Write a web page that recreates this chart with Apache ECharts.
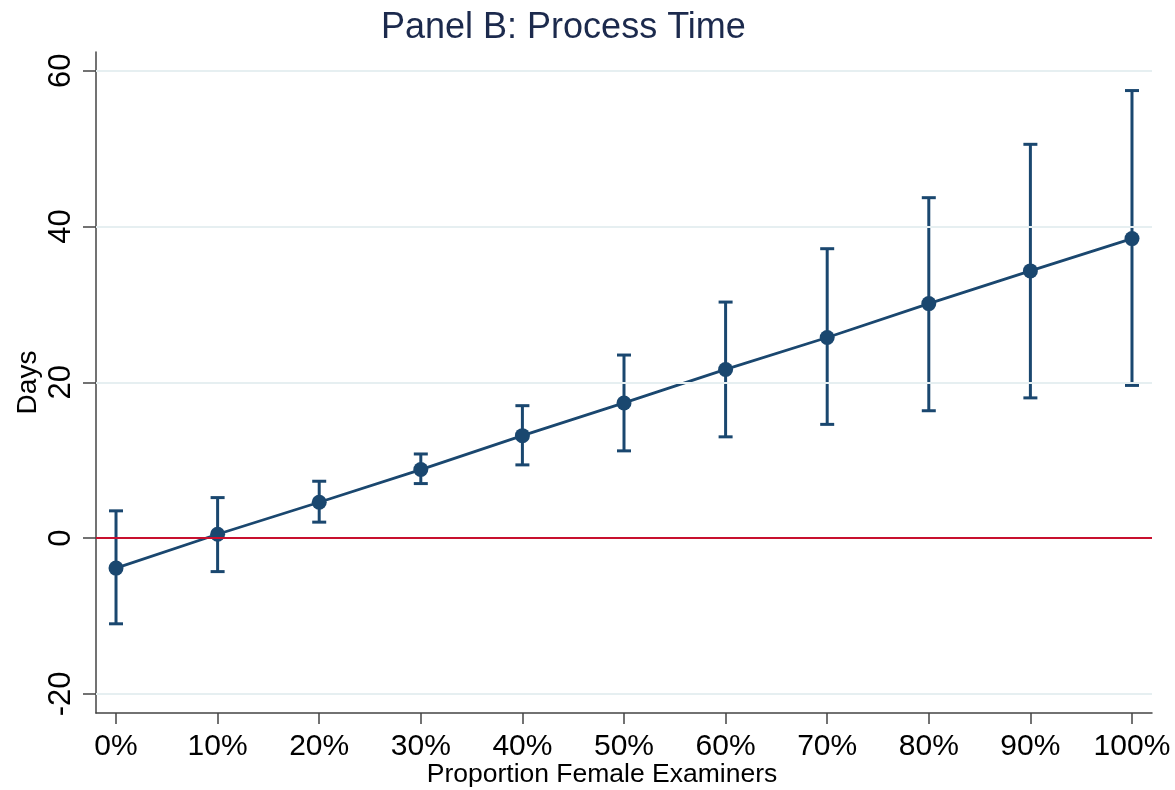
<!DOCTYPE html>
<html>
<head>
<meta charset="utf-8">
<script src="https://cdn.jsdelivr.net/npm/echarts@6/dist/echarts.min.js"></script>
<style>
html,body{margin:0;padding:0;background:#fff;}
#chart{width:1175px;height:790px;}
</style>
</head>
<body>
<div id="chart"></div>
<script>
// ---- data ----
const xValues = [0, 10, 20, 30, 40, 50, 60, 70, 80, 90, 100];
const estimates = [-3.85, 0.5, 4.6, 8.8, 13.15, 17.35, 21.65, 25.75, 30.1, 34.3, 38.45];
const ciLower = [-11.0, -4.3, 2.05, 7.0, 9.4, 11.2, 13.0, 14.6, 16.35, 18.0, 19.6];
const ciUpper = [3.5, 5.2, 7.3, 10.8, 17.0, 23.5, 30.3, 37.15, 43.7, 50.55, 57.45];
const yTicks = [-20, 0, 20, 40, 60];
const gridValues = [-20, 20, 40, 60];
const refValue = 0;
const titleText = 'Panel B: Process Time';
const xTitle = 'Proportion Female Examiners';
const yTitle = 'Days';

const navy = '#1a476f';
const font = '"Liberation Sans", Arial, sans-serif';

const chart = echarts.init(document.getElementById('chart'), null, {renderer: 'canvas'});

const errData = xValues.map((x, i) => [x, ciLower[i], ciUpper[i]]);
const lineData = xValues.map((x, i) => [x, estimates[i]]);

const option = {
  backgroundColor: '#ffffff',
  animation: false,
  title: {
    text: titleText,
    left: 376,
    top: 5,
    textStyle: {fontFamily: font, fontSize: 36, fontWeight: 'normal', color: '#1c2a4d'}
  },
  grid: {left: 96, right: 23, top: 52, bottom: 77, containLabel: false, outerBoundsMode: 'none'},
  xAxis: {
    type: 'value',
    min: -1.97,
    max: 101.97,
    name: xTitle,
    nameLocation: 'middle',
    nameGap: 48,
    nameMoveOverlap: false,
    nameTextStyle: {fontFamily: font, fontSize: 26.5, color: '#000', padding: [0, 44, 0, 0]},
    axisLine: {show: true, onZero: false, lineStyle: {color: '#444', width: 1.5}},
    axisTick: {show: true, length: 11, customValues: xValues, lineStyle: {color: '#444', width: 1.5}},
    axisLabel: {
      customValues: xValues,
      formatter: v => v + '%',
      fontFamily: font, fontSize: 30, color: '#000', margin: 19
    },
    splitLine: {show: false}
  },
  yAxis: {
    type: 'value',
    min: -22.45,
    max: 62.4,
    name: yTitle,
    nameLocation: 'middle',
    nameGap: 54,
    nameMoveOverlap: false,
    nameRotate: 90,
    nameTextStyle: {fontFamily: font, fontSize: 28, color: '#000'},
    axisLine: {show: true, onZero: false, lineStyle: {color: '#444', width: 1.5}},
    axisTick: {show: true, length: 13, customValues: yTicks, lineStyle: {color: '#444', width: 1.5}},
    axisLabel: {
      customValues: yTicks,
      rotate: 90,
      fontFamily: font, fontSize: 31, color: '#000', margin: 19
    },
    splitLine: {show: false}
  },
  series: [
    {
      type: 'line',
      data: [],
      silent: true,
      markLine: {
        silent: true,
        symbol: 'none',
        label: {show: false},
        data: gridValues.map(v => ({yAxis: v, lineStyle: {color: '#e6eff1', width: 2, type: 'solid'}}))
          .concat([{yAxis: refValue, lineStyle: {color: '#c8102e', width: 2.2, type: 'solid'}}])
      }
    },
    {
      type: 'custom',
      data: errData,
      z: 3,
      renderItem: function (params, api) {
        const x = api.value(0);
        const lo = api.coord([x, api.value(1)]);
        const hi = api.coord([x, api.value(2)]);
        const cap = 7;
        const style = {stroke: navy, lineWidth: 3, fill: null};
        return {
          type: 'group',
          children: [
            {type: 'line', shape: {x1: lo[0], y1: lo[1], x2: hi[0], y2: hi[1]}, style: style},
            {type: 'line', shape: {x1: lo[0] - cap, y1: lo[1], x2: lo[0] + cap, y2: lo[1]}, style: style},
            {type: 'line', shape: {x1: hi[0] - cap, y1: hi[1], x2: hi[0] + cap, y2: hi[1]}, style: style}
          ]
        };
      }
    },
    {
      type: 'line',
      data: lineData,
      z: 4,
      symbol: 'circle',
      symbolSize: 15,
      showAllSymbol: true,
      lineStyle: {color: navy, width: 2.8},
      itemStyle: {color: navy, borderWidth: 0}
    }
  ]
};
chart.setOption(option);
</script>
</body>
</html>
